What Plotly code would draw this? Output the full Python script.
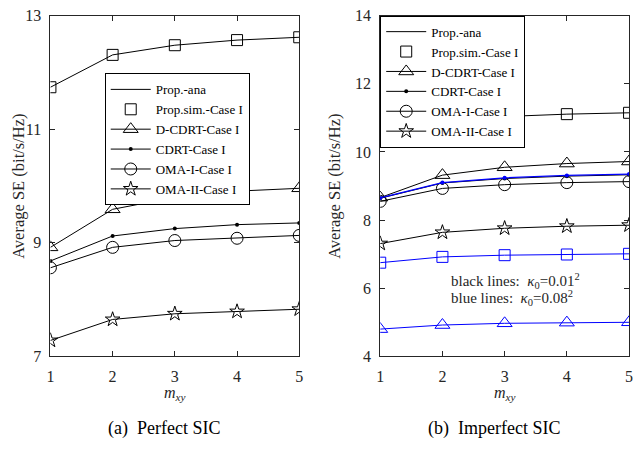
import plotly.graph_objects as go
from plotly.subplots import make_subplots

# m_xy values on the horizontal axis
m_xy = [1, 2, 3, 4, 5]

# (a) Perfect SIC
a_prop = [11.74, 12.31, 12.48, 12.57, 12.62]
a_dcdrt = [8.92, 9.59, 9.80, 9.91, 9.96]
a_cdrt = [8.68, 9.12, 9.25, 9.32, 9.35]
a_oma1 = [8.56, 8.92, 9.04, 9.08, 9.13]
a_oma2 = [7.28, 7.65, 7.75, 7.79, 7.83]

# (b) Imperfect SIC, kappa0 = 0.01^2 (black)
b_prop = [10.49, 10.95, 11.04, 11.11, 11.15]
b_dcdrt = [8.66, 9.32, 9.55, 9.66, 9.72]
b_cdrt = [8.64, 9.09, 9.22, 9.29, 9.33]
b_oma1 = [8.55, 8.93, 9.04, 9.10, 9.13]
b_oma2 = [7.31, 7.64, 7.76, 7.82, 7.85]

# (b) Imperfect SIC, kappa0 = 0.08^2 (blue)
c_prop = [6.75, 6.92, 6.97, 6.99, 7.01]
c_dcdrt = [4.80, 4.92, 4.97, 4.99, 5.00]
c_cdrt = [8.65, 9.10, 9.24, 9.31, 9.35]

names = ["Prop.-ana", "Prop.sim.-Case I", "D-CDRT-Case I",
         "CDRT-Case I", "OMA-I-Case I", "OMA-II-Case I"]

a_ticks = [7, 9, 11, 13]
b_ticks = [4, 6, 8, 10, 12, 14]

FONT = "Liberation Serif, Times New Roman, serif"
BLACK = "#000000"
BLUE = "#0000FF"
AXC = "#262626"

fig = make_subplots(rows=1, cols=2, horizontal_spacing=0.1)


def add_set(col, prop, dcdrt, cdrt, oma1, oma2, color, legend, show):
    common = dict(legend=legend, showlegend=show)
    if prop is not None:
        fig.add_trace(go.Scatter(x=m_xy, y=prop, mode="lines", name=names[0], legendrank=1,
                                 line=dict(color=color, width=1), **common), row=1, col=col)
        fig.add_trace(go.Scatter(x=m_xy, y=prop, mode="markers", name=names[1], legendrank=2,
                                 marker=dict(symbol="square-open", size=11, color=color,
                                             line=dict(width=1, color=color)), **common),
                      row=1, col=col)
    if dcdrt is not None:
        fig.add_trace(go.Scatter(x=m_xy, y=dcdrt, mode="lines+markers", name=names[2],
                                 legendrank=3, line=dict(color=color, width=1),
                                 marker=dict(symbol="triangle-up-open", size=13, color=color,
                                             line=dict(width=1, color=color)), **common),
                      row=1, col=col)
    if oma1 is not None:
        fig.add_trace(go.Scatter(x=m_xy, y=oma1, mode="lines+markers", name=names[4],
                                 legendrank=5, line=dict(color=color, width=1),
                                 marker=dict(symbol="circle-open", size=12, color=color,
                                             line=dict(width=1, color=color)), **common),
                      row=1, col=col)
    if oma2 is not None:
        fig.add_trace(go.Scatter(x=m_xy, y=oma2, mode="lines+markers", name=names[5],
                                 legendrank=6, line=dict(color=color, width=1),
                                 marker=dict(symbol="star-open", size=11, color=color,
                                             line=dict(width=1, color=color)), **common),
                      row=1, col=col)
    if cdrt is not None:
        fig.add_trace(go.Scatter(x=m_xy, y=cdrt, mode="lines+markers", name=names[3],
                                 legendrank=4,
                                 line=dict(color=color, width=1.3 if color == BLUE else 1),
                                 marker=dict(symbol="circle", size=4, color=color), **common),
                      row=1, col=col)


add_set(1, a_prop, a_dcdrt, a_cdrt, a_oma1, a_oma2, BLACK, "legend", True)
add_set(2, b_prop, b_dcdrt, b_cdrt, b_oma1, b_oma2, BLACK, "legend2", True)
add_set(2, c_prop, c_dcdrt, c_cdrt, None, None, BLUE, "legend2", False)

axis_style = dict(showgrid=False, zeroline=False, showline=True, linecolor=AXC,
                  linewidth=1, mirror="allticks", ticks="inside", ticklen=5,
                  tickcolor=AXC, ticklabeloverflow="allow",
                  tickfont=dict(family=FONT, size=16, color=AXC))

fig.update_xaxes(range=[1, 5], tickvals=m_xy, ticklabelstandoff=5, **axis_style)
fig.update_xaxes(domain=[47 / 637, 299 / 637], row=1, col=1)
fig.update_xaxes(domain=[381 / 637, 633 / 637], row=1, col=2)
fig.update_yaxes(domain=[1 - 362 / 451, 1 - 8 / 451], ticklabelstandoff=5, **axis_style)
fig.update_yaxes(range=[7, 13], tickvals=a_ticks, row=1, col=1)
fig.update_yaxes(range=[4, 14], tickvals=b_ticks, row=1, col=2)

leg_style = dict(font=dict(family=FONT, size=13, color=BLACK), bgcolor="white",
                 bordercolor=BLACK, borderwidth=1, xanchor="left", yanchor="top",
                 tracegroupgap=0, itemwidth=40)

ann = []
ylab = "Average SE (bit/s/Hz)"
for xp in (14 / 637, 334 / 637):
    ann.append(dict(text=ylab, x=xp, y=1 - 185 / 451, xref="paper", yref="paper",
                    xanchor="center", yanchor="middle", textangle=-90, showarrow=False,
                    font=dict(family=FONT, size=16.5, color=AXC)))
for xp in (173 / 637, 507 / 637):
    ann.append(dict(text="<i>m</i><sub><i>xy</i></sub>", x=xp, y=1 - 401 / 451,
                    xref="paper", yref="paper", xanchor="center", yanchor="middle",
                    showarrow=False, font=dict(family=FONT, size=16, color=AXC)))
ann.append(dict(text="(a)  Perfect SIC", x=162 / 637, y=1 - 437 / 451, xref="paper",
                yref="paper", xanchor="center", yanchor="middle", showarrow=False,
                font=dict(family=FONT, size=18, color=BLACK)))
ann.append(dict(text="(b)  Imperfect SIC", x=496 / 637, y=1 - 437 / 451, xref="paper",
                yref="paper", xanchor="center", yanchor="middle", showarrow=False,
                font=dict(family=FONT, size=18, color=BLACK)))
ann.append(dict(text="black lines:  <i>κ</i><sub>0</sub>=0.01<sup>2</sup>", x=2.1, y=6.2,
                xref="x2", yref="y2", xanchor="left", yanchor="middle", showarrow=False,
                font=dict(family=FONT, size=15, color=AXC)))
ann.append(dict(text="blue lines:  <i>κ</i><sub>0</sub>=0.08<sup>2</sup>", x=2.1, y=5.7,
                xref="x2", yref="y2", xanchor="left", yanchor="middle", showarrow=False,
                font=dict(family=FONT, size=15, color=AXC)))

fig.update_layout(
    width=637, height=451,
    margin=dict(l=0, r=0, t=0, b=0),
    paper_bgcolor="white", plot_bgcolor="white",
    legend=dict(x=102 / 637, y=1 - 68 / 451, **leg_style),
    legend2=dict(x=381 / 637, y=1 - 8 / 451, **leg_style),
    annotations=ann,
)

fig.write_html("out.html")
